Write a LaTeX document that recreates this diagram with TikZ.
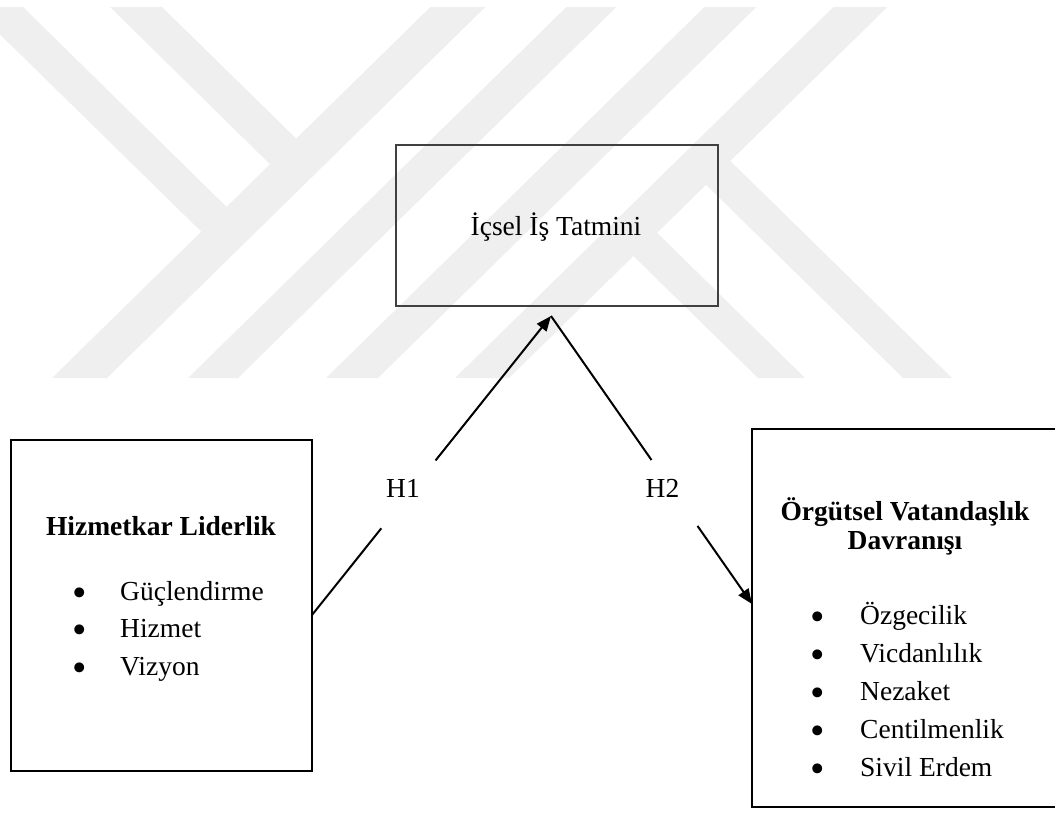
\documentclass[tikz,border=0pt]{standalone}
\usepackage{fontspec}
\setmainfont{Liberation Serif}
\usetikzlibrary{arrows.meta,calc}
\definecolor{wmgray}{RGB}{239,239,239}
\begin{document}
\begin{tikzpicture}[x=1pt,y=-1pt,
  band/.style={fill=wmgray},
  box/.style={draw=black,line width=1.6pt,inner sep=0pt},
  topbox/.style={draw=black!75,line width=1.3pt,inner sep=0pt},
  conn/.style={draw=black,line width=2pt},
  tip/.style={-{Triangle[length=15pt,width=12pt]}},
  txt/.style={font=\fontsize{27.5}{33}\selectfont,inner sep=0pt},
  head/.style={inner sep=0pt,align=center,font=\fontsize{27.5}{28.5}\selectfont\bfseries},
  bul/.style={txt,anchor=center},
  item/.style={txt,anchor=base west}]
\newcommand{\bigdot}{\scalebox{1.5}{•}}
\useasboundingbox (0,0) rectangle (1055,812);

% background emblem bands
\fill[band] (52,378) -- (107,378) -- (485.4,7) -- (430.4,7) -- cycle;
\fill[band] (188,378) -- (238,378) -- (616.4,7) -- (566.4,7) -- cycle;
\fill[band] (326,378) -- (378,378) -- (756.4,7) -- (704.4,7) -- cycle;
\fill[band] (455,378) -- (509,378) -- (887.4,7) -- (833.4,7) -- cycle;
\fill[band] (-28,7) -- (23,7) -- (244,224) -- (219,249) -- cycle;
\fill[band] (110,7) -- (162,7) -- (314,156) -- (288,182) -- cycle;
\fill[band] (758,378) -- (805,378) -- (639,215) -- (615,238) -- cycle;
\fill[band] (903,378) -- (952,378) -- (712,143) -- (688,167) -- cycle;

% boxes
\node[topbox,minimum width=322pt,minimum height=161pt] (T) at (557,225.5) {};
\node[txt] (Tt) at (556,227) {İçsel İş Tatmini};
\node[box,minimum width=301pt,minimum height=331pt] (L) at (161.5,605.5) {};
\node[box,minimum width=305pt,minimum height=378pt] (R) at (904.5,618) {};

% left box contents
\node[head,anchor=base] (Lh) at (161,535) {Hizmetkar Liderlik};
\node[bul] (Lb1) at (80,597) {\bigdot};
\node[bul] (Lb2) at (80,634.5) {\bigdot};
\node[bul] (Lb3) at (80,672) {\bigdot};
\node[item] (Li1) at (120,600) {Güçlendirme};
\node[item] (Li2) at (120,637.5) {Hizmet};
\node[item] (Li3) at (120,675) {Vizyon};

% right box contents
\node[head] (Rh) at (905,526.5) {Örgütsel Vatandaşlık\\Davranışı};
\node[bul] (Rb1) at (818,621) {\bigdot};
\node[bul] (Rb2) at (818,659) {\bigdot};
\node[bul] (Rb3) at (818,697) {\bigdot};
\node[bul] (Rb4) at (818,735) {\bigdot};
\node[bul] (Rb5) at (818,773) {\bigdot};
\node[item] (Ri1) at (860,624) {Özgecilik};
\node[item] (Ri2) at (860,662) {Vicdanlılık};
\node[item] (Ri3) at (860,700) {Nezaket};
\node[item] (Ri4) at (860,738) {Centilmenlik};
\node[item] (Ri5) at (860,776) {Sivil Erdem};

% hypothesis paths
\coordinate (apex) at (551,316);
\coordinate (h1s) at (312,615);
\coordinate (h2e) at (752,604);
\coordinate (h1a) at ($(h1s)!0.29!(apex)$);
\coordinate (h1b) at ($(h1s)!0.517!(apex)$);
\coordinate (h2a) at ($(apex)!0.5!(h2e)$);
\coordinate (h2b) at ($(apex)!0.729!(h2e)$);
\draw[conn] (h1s) -- (h1a);
\draw[conn,tip] (h1b) -- (apex);
\draw[conn] (apex) -- (h2a);
\draw[conn,tip] (h2b) -- (h2e);
\node[txt] (H1) at (403,488) {H1};
\node[txt] (H2) at (662.5,488) {H2};
\end{tikzpicture}
\end{document}
